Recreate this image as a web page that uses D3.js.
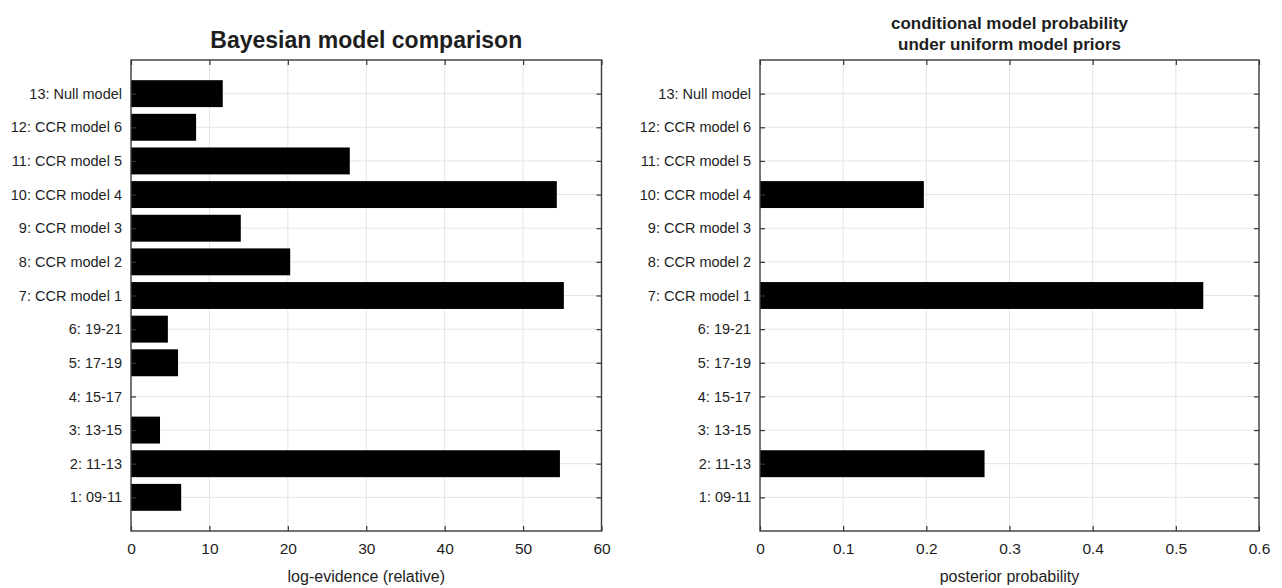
<!DOCTYPE html>
<html><head><meta charset="utf-8">
<script src="https://cdn.jsdelivr.net/npm/d3@7"></script>
<style>
body{margin:0;background:#fff}
text{font-family:"Liberation Sans",Arial,Helvetica,sans-serif;fill:#1e1e1e}
</style>
</head><body>
<svg id="c" width="1282" height="588"></svg>
<script>
const categories = ["1: 09-11","2: 11-13","3: 13-15","4: 15-17","5: 17-19","6: 19-21","7: CCR model 1","8: CCR model 2","9: CCR model 3","10: CCR model 4","11: CCR model 5","12: CCR model 6","13: Null model"];
const logEvidence = [6.4,54.7,3.7,0,6.0,4.7,55.2,20.3,14.0,54.3,27.9,8.3,11.7];
const posterior = [0,0.27,0,0,0,0,0.533,0,0,0.197,0,0,0];
const leftTicks = [0,10,20,30,40,50,60];
const rightTicks = [0,0.1,0.2,0.3,0.4,0.5,0.6];
const leftTitle = ["Bayesian model comparison"];
const rightTitle = ["conditional model probability","under uniform model priors"];
const leftXLabel = "log-evidence (relative)";
const rightXLabel = "posterior probability";

const svg = d3.select("#c");

function panel(o){
  const x = d3.scaleLinear().domain([o.ticks[0], o.ticks[o.ticks.length-1]]).range([o.x0,o.x1]);
  const y = d3.scaleLinear().domain([0, categories.length+1]).range([o.y1,o.y0]);
  const catIdx = categories.map((c,i)=>i+1);
  const g = svg.append("g");
  // grid
  g.append("g").selectAll("line").data(o.ticks.slice(1,-1)).join("line")
    .attr("x1",d=>x(d)).attr("x2",d=>x(d)).attr("y1",o.y0).attr("y2",o.y1)
    .attr("stroke","#e4e4e4").attr("stroke-width",1);
  g.append("g").selectAll("line").data(catIdx).join("line")
    .attr("y1",d=>y(d)).attr("y2",d=>y(d)).attr("x1",o.x0).attr("x2",o.x1)
    .attr("stroke","#e4e4e4").attr("stroke-width",1);
  // bars
  const bh = y(0) - y(0.8);
  g.append("g").selectAll("rect").data(o.values.map((v,i)=>({v,i}))).join("rect")
    .filter(d=>d.v>0)
    .attr("x",x(0)).attr("y",d=>y(d.i+1)-bh/2)
    .attr("width",d=>x(d.v)-x(0)).attr("height",bh)
    .attr("fill","#000");
  // axes
  const styleAx = sel => {
    sel.select(".domain").remove();
    sel.selectAll(".tick line").attr("stroke","#333").attr("stroke-width",1.2);
  };
  const fmt = o.fmt;
  g.append("g").attr("transform",`translate(0,${o.y1})`)
    .call(d3.axisBottom(x).tickValues(o.ticks).tickFormat(fmt).tickSize(-5).tickPadding(12))
    .call(styleAx)
    .call(s=>s.selectAll("text").attr("font-size","15.5px").attr("font-family","Liberation Sans, Arial, sans-serif").attr("fill","#1e1e1e"));
  g.append("g").attr("transform",`translate(0,${o.y0})`)
    .call(d3.axisTop(x).tickValues(o.ticks).tickFormat("").tickSize(-5))
    .call(styleAx);
  g.append("g").attr("transform",`translate(${o.x0},0)`)
    .call(d3.axisLeft(y).tickValues(catIdx).tickFormat(d=>categories[d-1]).tickSize(-5).tickPadding(9))
    .call(styleAx)
    .call(s=>s.selectAll("text").attr("font-size","14.5px").attr("font-family","Liberation Sans, Arial, sans-serif").attr("fill","#1e1e1e"));
  g.append("g").attr("transform",`translate(${o.x1},0)`)
    .call(d3.axisRight(y).tickValues(catIdx).tickFormat("").tickSize(-5))
    .call(styleAx);
  // box
  g.append("rect").attr("x",o.x0).attr("y",o.y0).attr("width",o.x1-o.x0).attr("height",o.y1-o.y0)
    .attr("fill","none").attr("stroke","#3a3a3a").attr("stroke-width",1.4);
  // title
  const cx = (o.x0+o.x1)/2;
  o.title.forEach((t,i)=>{
    g.append("text").attr("x",cx).attr("y",o.titleY[i]).attr("text-anchor","middle")
      .attr("font-weight","bold").attr("font-size",o.titleSize).text(t);
  });
  g.append("text").attr("x",cx).attr("y",582).attr("text-anchor","middle")
    .attr("font-size","16px").text(o.xlabel);
}

panel({x0:131,x1:601.5,y0:60,y1:531,ticks:leftTicks,values:logEvidence,fmt:d3.format("d"),
  title:leftTitle,titleY:[48],titleSize:"23px",xlabel:leftXLabel});
panel({x0:760,x1:1259,y0:60,y1:531,ticks:rightTicks,values:posterior,fmt:d=>d===0?"0":d3.format(".1f")(d),
  title:rightTitle,titleY:[29,50],titleSize:"17px",xlabel:rightXLabel});
</script>
</body></html>
